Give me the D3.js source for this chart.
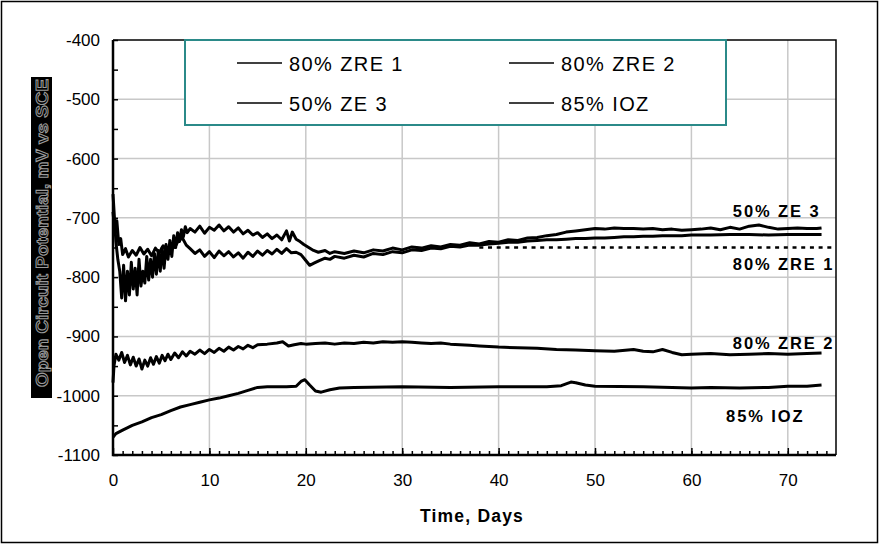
<!DOCTYPE html>
<html>
<head>
<meta charset="utf-8">
<script src="https://cdnjs.cloudflare.com/ajax/libs/d3/7.8.5/d3.min.js"></script>
<style>
    html, body { margin: 0; padding: 0; background: #fff; }
    svg { display: block; font-family: Arial, "Liberation Sans", sans-serif; }
</style>
</head>
<body>
<div id="chart"></div>
<script>
/* global d3 */

// data: open circuit potential (mV vs SCE) against time (days)
const ze3Days = [
    0, 0.15, 0.3, 0.5, 0.7, 0.9, 1.1, 1.3, 1.5, 1.7,
    1.9, 2.1, 2.3, 2.5, 2.7, 2.9, 3.1, 3.3, 3.5, 3.7,
    3.9, 4.1, 4.3, 4.5, 4.7, 4.9, 5.1, 5.3, 5.5, 5.7,
    5.9, 6.1, 6.3, 6.5, 6.7, 6.9, 7.1, 7.3, 7.5, 7.7,
    8, 8.5, 9, 9.5, 10, 10.5, 11, 11.5, 12, 12.5,
    13, 13.5, 14, 14.5, 15, 15.5, 16, 16.5, 17, 17.5,
    18, 18.3, 18.6, 19, 19.4, 19.8, 20.3, 20.8, 21.3, 22,
    22.5, 23, 24, 25, 26, 27, 28, 29, 30, 31,
    32, 33, 34, 35, 36, 37, 38, 39, 40, 41,
    42, 43, 44, 45, 46, 47, 48, 49, 50, 51,
    52, 53, 54, 55, 56, 57, 58, 59, 60, 61,
    62, 63, 64, 65, 66, 67, 68, 69, 70, 71,
    72, 73, 73.5
];
const ze3Vals = [
    -660, -700, -740, -770, -790, -835, -780, -840, -790, -830,
    -775, -820, -785, -830, -770, -815, -790, -810, -765, -805,
    -770, -800, -760, -795, -755, -790, -750, -785, -745, -770,
    -738, -765, -730, -750, -725, -740, -720, -732, -715, -725,
    -718, -724, -714, -726, -716, -721, -712, -722, -715, -724,
    -717, -727, -721, -729, -725, -733, -727, -735, -729, -737,
    -722, -739, -724, -736, -740, -745, -750, -755, -758, -755,
    -760, -757, -760, -756, -759, -754, -756, -751, -754, -749,
    -751, -747, -749, -745, -746, -742, -744, -740, -741, -737,
    -738, -734, -733, -730, -728, -724, -722, -720, -718, -719,
    -717, -718, -718, -719, -718, -720, -719, -721, -720, -719,
    -717, -720, -716, -719, -714, -712, -716, -719, -718, -717,
    -718, -718, -717
];

const zre1Days = [
    0, 0.2, 0.4, 0.6, 0.8, 1, 1.3, 1.6, 2, 2.4,
    2.8, 3.2, 3.6, 4, 4.4, 4.8, 5.2, 5.6, 6, 6.4,
    6.8, 7.2, 7.6, 8, 8.5, 9, 9.5, 10, 10.5, 11,
    11.5, 12, 12.5, 13, 13.5, 14, 14.5, 15, 15.5, 16,
    16.5, 17, 17.5, 18, 18.5, 19, 19.5, 20, 20.4, 20.9,
    21.4, 22, 22.5, 23, 24, 25, 26, 27, 28, 29,
    30, 31, 32, 33, 34, 35, 36, 37, 38, 39,
    40, 41, 42, 43, 44, 45, 46, 47, 48, 49,
    50, 51, 52, 53, 54, 55, 56, 57, 58, 59,
    60, 62, 64, 66, 68, 70, 72, 73.5
];
const zre1Vals = [
    -690, -725, -705, -745, -735, -762, -752, -766, -755, -763,
    -750, -761, -753, -764, -751, -759, -747, -756, -744, -750,
    -738, -734, -746, -752, -760, -754, -765, -757, -767, -756,
    -764, -757, -766, -759, -768, -758, -765, -756, -763, -755,
    -761, -753, -760, -752, -759, -758, -762, -772, -780, -776,
    -772, -768, -770, -765, -768, -763, -766, -760, -762, -757,
    -759, -754, -755, -751, -752, -748, -749, -746, -746, -744,
    -743, -741, -741, -739, -738, -737, -737, -736, -735, -735,
    -734, -734, -733, -732, -732, -731, -731, -730, -730, -730,
    -729, -729, -728, -728, -729, -728, -728, -728
];

const zre2Days = [
    0, 0.1, 0.3, 0.6, 0.9, 1.2, 1.5, 1.8, 2.1, 2.4,
    2.7, 3.0, 3.3, 3.6, 3.9, 4.2, 4.5, 4.8, 5.1, 5.4,
    5.7, 6.0, 6.4, 6.8, 7.2, 7.6, 8.0, 8.5, 9, 9.5,
    10, 10.5, 11, 11.5, 12, 12.5, 13, 13.5, 14, 14.5,
    15, 16, 17, 17.6, 18.2, 18.8, 19.5, 20, 21, 22,
    23, 24, 25, 26, 27, 28, 29, 30, 31, 32,
    33, 34, 35, 36, 37, 38, 39, 40, 42, 44,
    46, 48, 50, 52, 54, 55, 56, 57, 58, 59,
    60, 62, 64, 66, 68, 70, 72, 73.5
];
const zre2Vals = [
    -978, -950, -930, -940, -927, -944, -932, -948, -935, -950,
    -938, -955, -940, -950, -936, -947, -934, -945, -932, -941,
    -930, -939, -928, -936, -926, -933, -925, -930, -923, -929,
    -922, -927, -920, -925, -918, -923, -917, -921, -915, -919,
    -914, -913, -911, -909, -916, -914, -912, -913, -912, -911,
    -913, -911, -912, -910, -911, -909, -910, -909, -910, -911,
    -912, -911, -913, -914, -915, -916, -917, -918, -919, -920,
    -922, -923, -924, -925, -922, -925, -926, -922, -927, -931,
    -930, -929, -931, -930, -929, -930, -929, -928
];

const iozDays = [
    0, 0.3, 1, 2, 3, 4, 5, 6, 7, 8,
    9, 10, 11, 12, 13, 14, 15, 16, 17, 18,
    19, 19.5, 19.9, 20.4, 21, 21.6, 22.5, 23.5, 25, 30,
    35, 40, 45, 46.5, 47.5, 48, 49, 50, 55, 58,
    60, 62, 65, 68, 70, 72, 73.5
];
const iozVals = [
    -1070, -1064, -1058, -1050, -1044, -1037, -1032, -1025, -1019, -1015,
    -1011, -1007, -1004, -1000, -996, -991, -986, -985, -985, -985,
    -984, -976, -973, -982, -992, -994, -990, -987, -986, -985,
    -986, -985, -985, -983, -977, -978, -982, -984, -985, -986,
    -987, -986, -987, -986, -984, -984, -982
];

// dotted reference level
const refDays = [38, 75];
const refVals = [-750, -750];

const legendNames = ['80% ZRE 1', '80% ZRE 2', '50% ZE 3', '85% IOZ'];
const endLabels = ['50% ZE 3', '80% ZRE 1', '80% ZRE 2', '85% IOZ'];
const xTicks = [0, 10, 20, 30, 40, 50, 60, 70];
const yTicks = [-400, -500, -600, -700, -800, -900, -1000, -1100];
const yTitle = 'Open Circuit Potential, mV vs SCE';
const xTitle = 'Time, Days';

// dimensions
const WIDTH = 879;
const HEIGHT = 544;
const MARGIN_TOP = 40;
const MARGIN_LEFT = 113;
const PLOT_RIGHT = 836;
const PLOT_BOTTOM = 455;

const xScale = d3.scaleLinear().domain([0, 75]).range([MARGIN_LEFT, PLOT_RIGHT]);
const yScale = d3.scaleLinear().domain([-1100, -400]).range([PLOT_BOTTOM, MARGIN_TOP]);

const $svg = d3.select('#chart').append('svg')
    .attr('width', WIDTH)
    .attr('height', HEIGHT);

// outer frame
$svg.append('rect')
    .attr('x', 1.5).attr('y', 1.5)
    .attr('width', WIDTH - 3).attr('height', HEIGHT - 3)
    .attr('fill', '#fff')
    .attr('stroke', '#000')
    .attr('stroke-width', 1.5);

// grid
const $grid = $svg.append('g').attr('class', 'g-grid')
    .attr('stroke', '#c8c8c8')
    .attr('stroke-width', 1.5);

$grid.selectAll('.gx')
    .data(xTicks.filter(d => d > 0))
    .join('line')
    .attr('class', 'gx')
    .attr('x1', d => xScale(d)).attr('x2', d => xScale(d))
    .attr('y1', MARGIN_TOP).attr('y2', PLOT_BOTTOM);

$grid.selectAll('.gy')
    .data(yTicks.filter(d => d > -1100 && d < -400))
    .join('line')
    .attr('class', 'gy')
    .attr('x1', MARGIN_LEFT).attr('x2', PLOT_RIGHT)
    .attr('y1', d => yScale(d)).attr('y2', d => yScale(d));

// series
const line = d3.line()
    .x(d => xScale(d[0]))
    .y(d => yScale(d[1]));

const series = [
    d3.zip(iozDays, iozVals),
    d3.zip(zre2Days, zre2Vals),
    d3.zip(zre1Days, zre1Vals),
    d3.zip(ze3Days, ze3Vals)
];

const $vis = $svg.append('g').attr('class', 'g-vis');

$vis.selectAll('.series')
    .data(series)
    .join('path')
    .attr('class', 'series')
    .attr('d', line)
    .attr('fill', 'none')
    .attr('stroke', '#000')
    .attr('stroke-width', 3)
    .attr('stroke-linejoin', 'round');

$vis.append('path')
    .datum(d3.zip(refDays, refVals))
    .attr('d', line)
    .attr('fill', 'none')
    .attr('stroke', '#000')
    .attr('stroke-width', 2.5)
    .attr('stroke-dasharray', '4,4.7');

// axes
const fmt = d => String(d);
const xAxisMinor = d3.axisBottom(xScale)
    .tickValues(d3.range(1, 75)).tickSize(-4).tickFormat('');
const xAxisMajor = d3.axisBottom(xScale)
    .tickValues(xTicks).tickSize(-7).tickPadding(19).tickFormat(fmt);
const yAxisMinor = d3.axisLeft(yScale)
    .tickValues(d3.range(-1050, -400, 100)).tickSize(-5).tickFormat('');
const yAxisMajor = d3.axisLeft(yScale)
    .tickValues(yTicks).tickSize(-5).tickPadding(13).tickFormat(fmt);

const $axis = $svg.append('g').attr('class', 'g-axis');

function styleAxis(g) {
    g.select('.domain').remove();
    g.selectAll('.tick line').attr('stroke', '#000').attr('stroke-width', 1.5);
    g.selectAll('.tick text')
        .attr('fill', '#000')
        .attr('font-size', 17)
        .attr('font-family', 'Arial, "Liberation Sans", sans-serif');
}

$axis.append('g').attr('transform', `translate(0,${PLOT_BOTTOM})`).call(xAxisMinor).call(styleAxis);
$axis.append('g').attr('transform', `translate(0,${PLOT_BOTTOM})`).call(xAxisMajor).call(styleAxis);
$axis.append('g').attr('transform', `translate(${MARGIN_LEFT},0)`).call(yAxisMinor).call(styleAxis);
$axis.append('g').attr('transform', `translate(${MARGIN_LEFT},0)`).call(yAxisMajor).call(styleAxis);

// plot border
$axis.append('path')
    .attr('d', `M${MARGIN_LEFT},${MARGIN_TOP}H${PLOT_RIGHT}V${PLOT_BOTTOM}`)
    .attr('fill', 'none')
    .attr('stroke', '#000')
    .attr('stroke-width', 1.5);
$axis.append('path')
    .attr('d', `M${MARGIN_LEFT},${MARGIN_TOP}V${PLOT_BOTTOM}H${PLOT_RIGHT}`)
    .attr('fill', 'none')
    .attr('stroke', '#000')
    .attr('stroke-width', 2.5);

// legend
const $legend = $svg.append('g').attr('class', 'g-legend');
$legend.append('rect')
    .attr('x', 185).attr('y', 40)
    .attr('width', 541).attr('height', 85)
    .attr('fill', '#fff')
    .attr('stroke', '#2b8a89')
    .attr('stroke-width', 2);

const $items = $legend.selectAll('.item')
    .data(legendNames)
    .join('g')
    .attr('class', 'item')
    .attr('transform', (d, i) => `translate(${i % 2 ? 509 : 237},${i < 2 ? 63 : 103})`);

$items.append('line')
    .attr('x1', 0).attr('x2', 45)
    .attr('stroke', '#000')
    .attr('stroke-width', 1.5);

$items.append('text')
    .attr('x', 52)
    .attr('y', 7.5)
    .attr('font-size', 20)
    .attr('letter-spacing', 1.4)
    .text(d => d);

// end labels
const labelPos = [[64.3, -698], [64.3, -788], [64.3, -921], [63.6, -1044]];
$svg.append('g').attr('class', 'g-labels')
    .selectAll('text')
    .data(endLabels)
    .join('text')
    .attr('x', (d, i) => xScale(labelPos[i][0]))
    .attr('y', (d, i) => yScale(labelPos[i][1]))
    .attr('font-size', 16.5)
    .attr('font-weight', 'bold')
    .attr('letter-spacing', 1.9)
    .text(d => d);

// axis titles
$svg.append('text')
    .attr('x', 472)
    .attr('y', 522)
    .attr('text-anchor', 'middle')
    .attr('font-size', 17.5)
    .attr('font-weight', 'bold')
    .attr('letter-spacing', 1.2)
    .text(xTitle);

$svg.append('rect')
    .attr('x', 31).attr('y', 77)
    .attr('width', 21).attr('height', 321)
    .attr('fill', '#000');

$svg.append('text')
    .attr('transform', 'translate(47.5,233) rotate(-90)')
    .attr('text-anchor', 'middle')
    .attr('font-size', 17)
    .attr('font-weight', 'bold')
    .attr('textLength', 308)
    .attr('lengthAdjust', 'spacingAndGlyphs')
    .attr('fill', '#000')
    .attr('stroke', '#9a9a9a')
    .attr('stroke-width', 1)
    .text(yTitle);
</script>
</body>
</html>
